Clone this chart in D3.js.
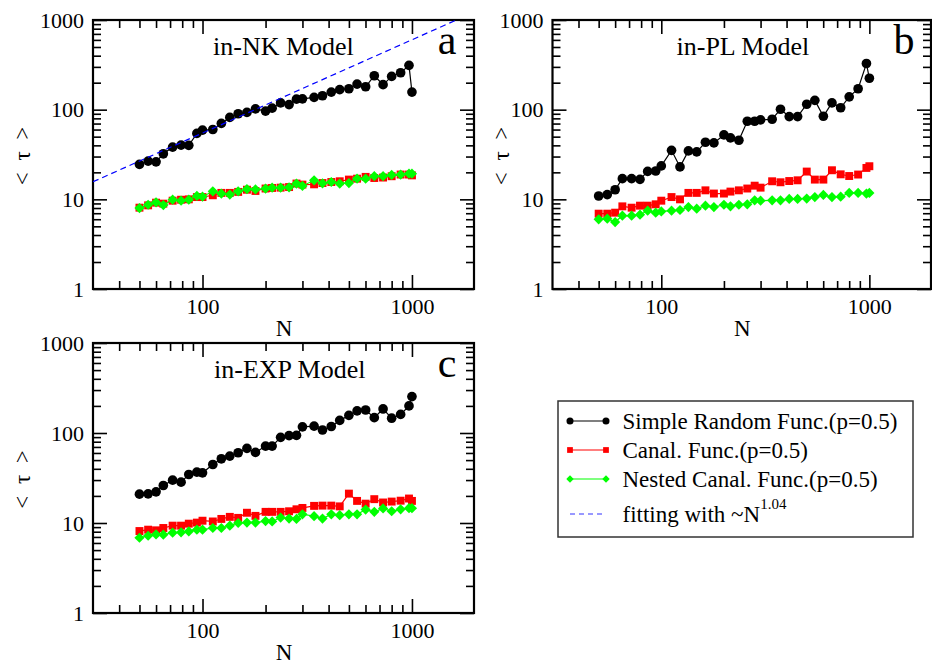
<!DOCTYPE html>
<html>
<head>
<meta charset="utf-8">
<script src="https://cdn.jsdelivr.net/npm/d3@7"></script>
<style>
  body { margin: 0; background: #fff; }
  svg, svg text { font-family: "Liberation Serif", "Times New Roman", serif; }
</style>
</head>
<body>
<div id="chart"></div>
<script>
// network sizes (x values, shared by all panels)
const sizes = [50, 55, 60, 65, 72, 79, 86, 94, 100, 112, 123, 135, 148, 163, 179, 200, 215, 236,
  259, 281, 300, 341, 374, 412, 452, 500, 547, 601, 661, 728, 800, 883, 968, 1000];

// panel a: in-NK model
const nkSimple = [24.5, 26.7, 26.2, 32.2, 38.2, 40.2, 40, 54.3, 59.1, 60.1, 70.2, 81.9, 90, 93.2,
  102, 96.4, 104, 119, 114, 131, 132, 137, 143, 157, 167, 171, 193, 180, 239, 190, 235, 258, 312, 157];
const nkCanal = [8.07, 8.57, 9.18, 8.95, 9.66, 9.9, 10, 10.6, 10.6, 11.1, 11.8, 11.8, 12.1, 12.8,
  12.4, 13.2, 13.4, 13.5, 13.7, 15.0, 14.6, 14.7, 15.2, 15.6, 15.9, 16.6, 17.0, 17.8, 17.3, 17.5,
  18.1, 18.9, 18.9, 18.5];
const nkNested = [8.0, 8.7, 9.26, 8.64, 9.9, 9.66, 9.9, 10.9, 10.7, 12.3, 11.6, 11.3, 12.3, 13.0,
  12.9, 13.2, 13.5, 13.5, 13.6, 15.0, 14.1, 16.3, 15.1, 15.6, 15.0, 15.2, 17.0, 17.0, 18.1, 18.1,
  18.7, 18.9, 19.3, 19.3];

// panel b: in-PL model
const plSimple = [10.9, 11.3, 12.8, 17.0, 17.0, 16.7, 20.5, 20.7, 23.6, 35.2, 23.0, 34.7, 33.8,
  43.3, 42.6, 52.3, 48.4, 45.6, 74.3, 74.3, 76.9, 78.2, 101, 83.8, 83.8, 115, 127, 84.5, 119, 105,
  139, 171, 327, 224];
const plCanal = [6.92, 6.92, 7.1, 8.35, 8.07, 8.5, 8.5, 8.8, 9.66, 10.6, 10.0, 11.8, 11.8, 12.6,
  11.6, 11.6, 12.2, 12.6, 13.2, 14.2, 13.5, 15.9, 15.5, 16.0, 16.3, 20.4, 16.6, 16.6, 21.1, 19.0,
  18.2, 18.9, 22.4, 23.4];
const plNested = [5.98, 6.08, 5.58, 6.57, 6.57, 6.74, 7.47, 7.1, 7.34, 7.47, 7.6, 8.2, 7.87, 8.5,
  8.2, 8.7, 8.35, 8.7, 8.8, 9.74, 9.66, 9.74, 9.74, 10.1, 10.1, 10.2, 10.6, 11.2, 10.6, 10.7, 11.8,
  11.8, 11.6, 11.8];

// panel c: in-EXP model
const expSimple = [20.9, 21.1, 22.2, 26.1, 29.9, 28.4, 34.6, 36.7, 36.1, 44.7, 51.7, 55.4, 60.3,
  67.4, 60.8, 71.6, 71.6, 89.5, 93.4, 94.2, 117, 119, 108, 118, 138, 157, 176, 180, 148, 185, 146,
  161, 200, 254];
const expCanal = [8.14, 8.43, 8.29, 8.8, 9.34, 9.34, 9.83, 10.1, 10.6, 10.4, 11.1, 11.7, 11.4, 13.0,
  12.0, 13.3, 13.3, 13.3, 13.5, 14.2, 14.7, 15.5, 15.6, 15.6, 15.3, 21.2, 17.6, 16.4, 18.4, 16.9,
  17.3, 17.7, 18.7, 17.6];
const expNested = [6.86, 7.22, 7.47, 7.41, 7.8, 7.87, 8.07, 8.43, 8.43, 8.8, 8.8, 9.34, 10, 10.1,
  10.1, 10.5, 10.4, 11.5, 11.2, 11.1, 12.5, 11.9, 11.2, 12.5, 12.2, 12.5, 12.5, 14.1, 13.3, 14.5,
  13.5, 14.2, 14.6, 14.6];

// fitted power law ~N^1.04 (panel a), two end points
const fitN = [30, 2000];
const fitTau = [15.7, 1237];

// axes
const xDomain = [30, 2000];
const yDomain = [1, 1000];
const xMajor = [100, 1000];
const xMinor = [40, 50, 60, 70, 80, 90, 200, 300, 400, 500, 600, 700, 800, 900];
const yMajor = [1, 10, 100, 1000];
const yMinor = [2, 3, 4, 5, 6, 7, 8, 9, 20, 30, 40, 50, 60, 70, 80, 90, 200, 300, 400, 500, 600, 700, 800, 900];

const seriesNames = ["Simple Random Func.(p=0.5)", "Canal. Func.(p=0.5)", "Nested Canal. Func.(p=0.5)"];
const seriesColors = ["#000000", "#ff0000", "#00ff00"];
const seriesShapes = ["circle", "square", "diamond"];

const panels = [
  { id: "a", title: "in-NK Model", series: [nkSimple, nkCanal, nkNested], fit: true,
    left: 93, top: 20, right: 475, bottom: 289, titleDx: 120, yTitleX: 22 },
  { id: "b", title: "in-PL Model", series: [plSimple, plCanal, plNested], fit: false,
    left: 552.5, top: 20, right: 932, bottom: 289, titleDx: 124, yTitleX: 501 },
  { id: "c", title: "in-EXP Model", series: [expSimple, expCanal, expNested], fit: false,
    left: 93, top: 343, right: 475, bottom: 613, titleDx: 121, yTitleX: 22 }
];

const W = 932, H = 664;
const svg = d3.select("#chart").append("svg")
  .attr("width", W).attr("height", H);

function marker(g, shape, x, y, color, s) {
  if (shape === "circle") {
    g.append("circle").attr("cx", x).attr("cy", y).attr("r", s * 0.55).attr("fill", color);
  } else if (shape === "square") {
    g.append("rect").attr("x", x - s * 0.45).attr("y", y - s * 0.45)
      .attr("width", s * 0.9).attr("height", s * 0.9).attr("fill", color);
  } else {
    const h = s * 0.58;
    g.append("path").attr("d", `M${x},${y - h}L${x + h},${y}L${x},${y + h}L${x - h},${y}Z`)
      .attr("fill", color);
  }
}

panels.forEach(p => {
  const x = d3.scaleLog().domain(xDomain).range([p.left, p.right]);
  const y = d3.scaleLog().domain(yDomain).range([p.bottom, p.top]);
  const g = svg.append("g");

  // clip for the fit line
  svg.append("clipPath").attr("id", "clip-" + p.id)
    .append("rect").attr("x", p.left).attr("y", p.top)
    .attr("width", p.right - p.left).attr("height", p.bottom - p.top);

  // ticks (all inward)
  const axes = [
    [d3.axisBottom(x), `translate(0,${p.bottom})`, xMajor, xMinor, true],
    [d3.axisTop(x), `translate(0,${p.top})`, xMajor, xMinor, false],
    [d3.axisLeft(y), `translate(${p.left},0)`, yMajor, yMinor, true],
    [d3.axisRight(y), `translate(${p.right - 1},0)`, yMajor, yMinor, false]
  ];
  axes.forEach(([axis, tr, major, minor, labels]) => {
    const ga = g.append("g").attr("transform", tr)
      .call(axis.tickValues(major).tickSizeInner(-14).tickSizeOuter(0).tickPadding(9)
        .tickFormat(labels ? d3.format("d") : () => ""));
    ga.attr("font-family", null);
    ga.select(".domain").remove();
    ga.selectAll("line").attr("stroke", "#000").attr("stroke-width", 1.6);
    ga.selectAll("text").attr("font-size", 22).attr("fill", "#000");
    const gm = g.append("g").attr("transform", tr)
      .call(axis.tickValues(minor).tickSizeInner(-8).tickSizeOuter(0).tickFormat(() => ""));
    gm.select(".domain").remove();
    gm.selectAll("line").attr("stroke", "#000").attr("stroke-width", 1.6);
  });

  // frame
  g.append("rect").attr("x", p.left).attr("y", p.top)
    .attr("width", p.right - 1 - p.left).attr("height", p.bottom - p.top)
    .attr("fill", "none").attr("stroke", "#000").attr("stroke-width", 2.2);

  // series
  const line = d3.line().x(d => x(d[0])).y(d => y(d[1]));
  p.series.forEach((vals, si) => {
    const pts = sizes.map((n, i) => [n, vals[i]]);
    g.append("path").attr("d", line(pts)).attr("fill", "none")
      .attr("stroke", seriesColors[si]).attr("stroke-width", 1.2);
    const gm = g.append("g");
    pts.forEach(d => marker(gm, seriesShapes[si], x(d[0]), y(d[1]), seriesColors[si], 8.8));
    if (si === 0 && p.fit) {
      g.append("path").attr("d", line(fitN.map((n, i) => [n, fitTau[i]])))
        .attr("clip-path", `url(#clip-${p.id})`)
        .attr("fill", "none").attr("stroke", "#0000ff").attr("stroke-width", 1.2)
        .attr("stroke-dasharray", "6,4");
    }
  });

  // texts
  g.append("text").attr("x", p.left + p.titleDx).attr("y", p.top + 35)
    .attr("font-size", 26).text(p.title);
  g.append("text").attr("x", p.right - 28).attr("y", p.top + 34)
    .attr("text-anchor", "middle").attr("font-size", 42).text(p.id);
  g.append("text").attr("x", (p.left + p.right) / 2).attr("y", p.bottom + 47)
    .attr("text-anchor", "middle").attr("font-size", 23).text("N");
  g.append("text")
    .attr("transform", `translate(${p.yTitleX + 8},${(p.top + p.bottom) / 2}) rotate(-90)`)
    .attr("text-anchor", "middle").attr("font-size", 23).attr("letter-spacing", 3)
    .style("white-space", "pre").text("< τ >");
});

// legend
const lg = svg.append("g");
lg.append("rect").attr("x", 558).attr("y", 401).attr("width", 355).attr("height", 136)
  .attr("fill", "#fff").attr("stroke", "#333").attr("stroke-width", 1.5);
const rowY = [421, 450, 479, 514];
seriesNames.forEach((name, i) => {
  lg.append("line").attr("x1", 570).attr("x2", 606).attr("y1", rowY[i]).attr("y2", rowY[i])
    .attr("stroke", seriesColors[i]).attr("stroke-width", 1.2);
  marker(lg, seriesShapes[i], 570, rowY[i], seriesColors[i], 6.4);
  marker(lg, seriesShapes[i], 606, rowY[i], seriesColors[i], 6.4);
  lg.append("text").attr("x", 622.5).attr("y", rowY[i] + 7.5).attr("font-size", 23).text(name);
});
lg.append("line").attr("x1", 570).attr("x2", 606).attr("y1", rowY[3]).attr("y2", rowY[3])
  .attr("stroke", "#3333ff").attr("stroke-width", 1.2).attr("stroke-dasharray", "5,4");
const ft = lg.append("text").attr("x", 622.5).attr("y", rowY[3] + 8).attr("font-size", 23);
ft.append("tspan").text("fitting with ~N");
ft.append("tspan").attr("dy", -13).attr("font-size", 15).text("1.04");
</script>
</body>
</html>
